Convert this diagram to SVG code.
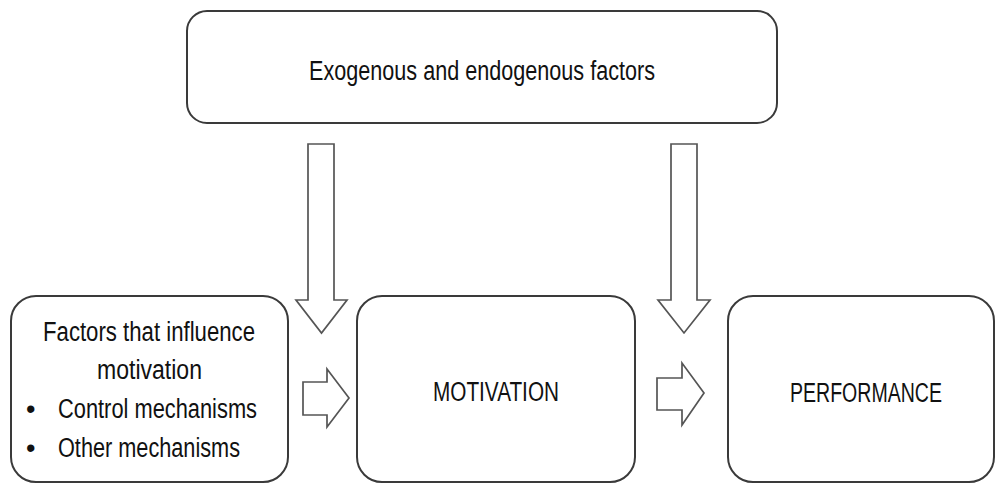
<svg xmlns="http://www.w3.org/2000/svg" width="996" height="484" viewBox="0 0 996 484">
<style>
.box{fill:#fff;stroke:#3a3a3a;stroke-width:2}
.arr{fill:#fff;stroke:#555;stroke-width:1.7;stroke-linejoin:miter}
text{font-family:"Liberation Sans",Arial,sans-serif;font-size:27px;fill:#111}
.c{text-anchor:middle}
</style>
<rect width="996" height="484" fill="#fff"/>
<g id="exo">
<rect class="box" x="187" y="11" width="590" height="112" rx="20"/>
<text class="c" x="482" y="80" textLength="346" lengthAdjust="spacingAndGlyphs">Exogenous and endogenous factors</text>
</g>
<g id="factors">
<rect class="box" x="11" y="296" width="277" height="186" rx="25"/>
<text class="c" x="149" y="341" textLength="212" lengthAdjust="spacingAndGlyphs">Factors that influence</text>
<text class="c" x="149.5" y="379" textLength="105" lengthAdjust="spacingAndGlyphs">motivation</text>
<text x="26" y="418">•</text>
<text x="58" y="418" textLength="199" lengthAdjust="spacingAndGlyphs">Control mechanisms</text>
<text x="26" y="457">•</text>
<text x="58" y="457" textLength="182" lengthAdjust="spacingAndGlyphs">Other mechanisms</text>
</g>
<g id="motivation">
<rect class="box" x="357" y="296" width="278" height="186" rx="25"/>
<text class="c" x="496" y="401" textLength="126" lengthAdjust="spacingAndGlyphs">MOTIVATION</text>
</g>
<g id="performance">
<rect class="box" x="728" y="296" width="266" height="186" rx="25"/>
<text class="c" x="866" y="402" textLength="152" lengthAdjust="spacingAndGlyphs">PERFORMANCE</text>
</g>
<g id="connectors">
<polygon class="arr" points="308,144 334,144 334,300 347,300 321.5,333 296,300 308,300"/>
<polygon class="arr" points="671,144 697,144 697,300 710,300 684,333 658,300 671,300"/>
<polygon class="arr" points="303,382 327,382 327,369 349,398 327,427 327,415 303,415"/>
<polygon class="arr" points="657,378 682,378 682,363 704,393 682,425 682,410 657,410"/>
</g>
</svg>
